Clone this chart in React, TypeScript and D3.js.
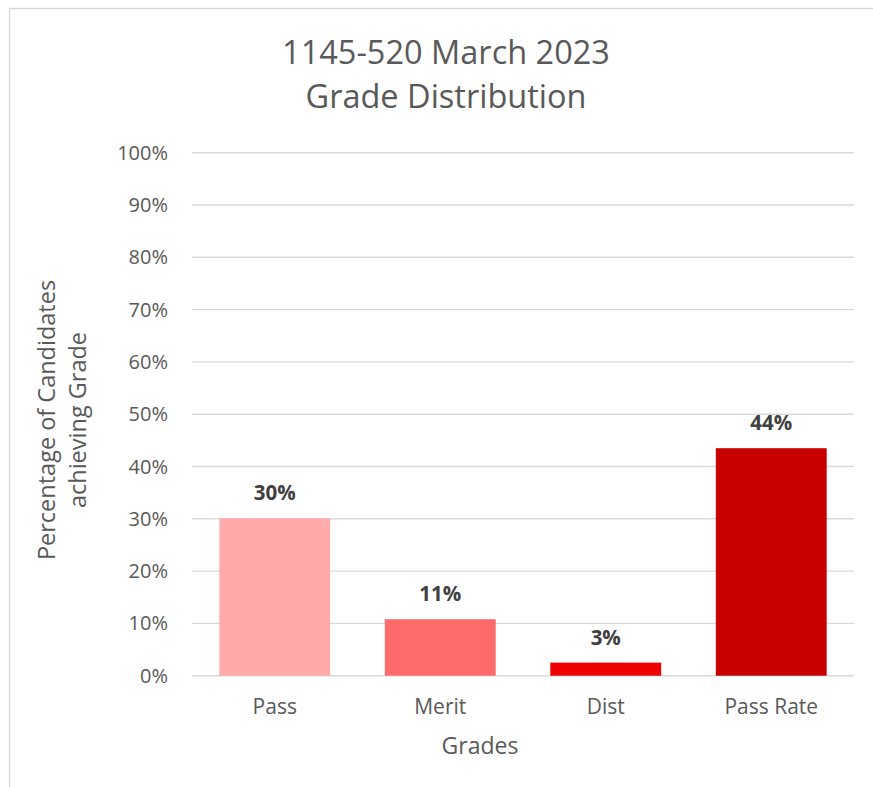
import React from "react";
import * as d3 from "d3";

const categories = ["Pass", "Merit", "Dist", "Pass Rate"];
const values = [0.301, 0.108, 0.025, 0.435];
const labels = ["30%", "11%", "3%", "44%"];
const colors = ["#FFABAB", "#FF6B6B", "#EE0000", "#C80000"];
const yTicks = [0, 0.1, 0.2, 0.3, 0.4, 0.5, 0.6, 0.7, 0.8, 0.9, 1.0];
const titleLines = ["1145-520 March 2023", "Grade Distribution"];
const yTitleLines = ["Percentage of Candidates", "achieving Grade"];
const xTitle = "Grades";

const W = 873;
const H = 787;
const plot = { left: 192, right: 854, top: 152.7, bottom: 675.7 };
const FONT = "'Open Sans', sans-serif";

export default function App() {
  const x = d3
    .scaleBand<string>()
    .domain(categories)
    .range([plot.left, plot.right])
    .paddingInner(0.33)
    .paddingOuter(0.165);
  const y = d3.scaleLinear().domain([0, 1]).range([plot.bottom, plot.top]);
  const fmt = d3.format(".0%");

  return (
    <svg
      width={W}
      height={H}
      style={{ position: "absolute", left: 0, top: 0, background: "#fff" }}
      fontFamily={FONT}
    >
      <rect x={0} y={0} width={W} height={H} fill="#fff" />
      {/* chart border (cropped at right/bottom) */}
      <path d={`M9.5,${H + 2} V8.5 H${W + 2}`} fill="none" stroke="#D9D9D9" strokeWidth={1.3} />

      {/* title */}
      <text x={446} textAnchor="middle" fill="#595959" fontSize={32.5}>
        <tspan x={446} y={64}>{titleLines[0]}</tspan>
        <tspan x={446} y={108}>{titleLines[1]}</tspan>
      </text>

      {/* gridlines */}
      {yTicks.map((t) => (
        <line
          key={t}
          x1={plot.left}
          x2={plot.right}
          y1={y(t)}
          y2={y(t)}
          stroke="#D9D9D9"
          strokeWidth={1.4}
        />
      ))}

      {/* y tick labels */}
      {yTicks.map((t) => (
        <text
          key={"l" + t}
          x={168}
          y={y(t)}
          dy="0.35em"
          textAnchor="end"
          fill="#595959"
          fontSize={20}
        >
          {fmt(t)}
        </text>
      ))}

      {/* bars */}
      {categories.map((c, i) => (
        <rect
          key={c}
          x={x(c)}
          y={y(values[i])}
          width={x.bandwidth()}
          height={y(0) - y(values[i])}
          fill={colors[i]}
        />
      ))}

      {/* data labels */}
      {categories.map((c, i) => (
        <text
          key={"d" + c}
          x={(x(c) as number) + x.bandwidth() / 2}
          y={y(values[i]) - 18}
          textAnchor="middle"
          fill="#404040"
          fontSize={20.5}
          fontWeight="bold"
        >
          {labels[i]}
        </text>
      ))}

      {/* category labels */}
      {categories.map((c) => (
        <text
          key={"c" + c}
          x={(x(c) as number) + x.bandwidth() / 2}
          y={714}
          textAnchor="middle"
          fill="#595959"
          fontSize={21}
        >
          {c}
        </text>
      ))}

      {/* x axis title */}
      <text x={480} y={754} textAnchor="middle" fill="#595959" fontSize={23}>
        {xTitle}
      </text>

      {/* y axis title */}
      <text transform="translate(0,420) rotate(-90)" textAnchor="middle" fill="#595959" fontSize={23.5}>
        <tspan x={0} y={55}>{yTitleLines[0]}</tspan>
        <tspan x={0} y={86}>{yTitleLines[1]}</tspan>
      </text>
    </svg>
  );
}
